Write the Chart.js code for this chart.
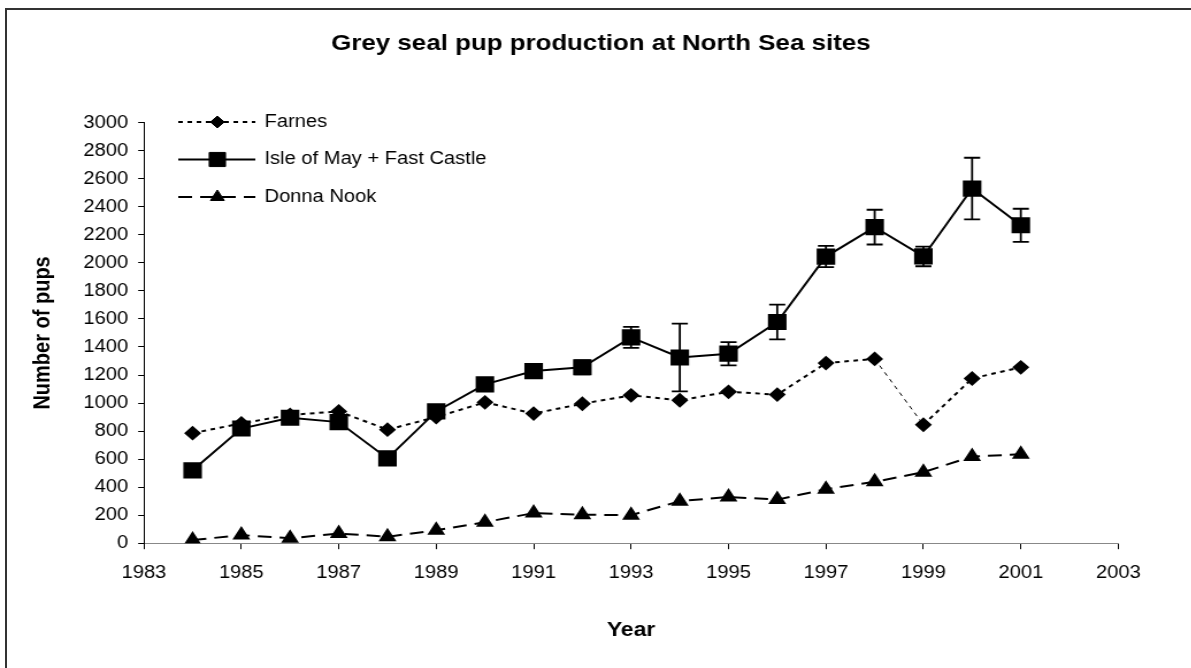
<!DOCTYPE html>
<html>
<head>
<meta charset="utf-8">
<title>Grey seal pup production at North Sea sites</title>
<script src="https://cdn.jsdelivr.net/npm/chart.js@4.4.0/dist/chart.umd.min.js"></script>
<style>
  html, body { margin: 0; padding: 0; background: #fff; overflow: hidden; }
  #frame {
    position: absolute; left: 5px; top: 8px; width: 1300px; height: 800px;
    border-left: 2px solid #333; border-top: 2px solid #333;
  }
  /* the original picture is stretched sideways, so the chart is too */
  #chart { position: absolute; left: 0; top: 0; transform: scaleX(1.15); transform-origin: 0 0; }
</style>
</head>
<body>
<div id="frame"></div>
<canvas id="chart" width="1036" height="668"></canvas>
<script>
const years = [1984, 1985, 1986, 1987, 1988, 1989, 1990, 1991, 1992, 1993, 1994, 1995, 1996, 1997, 1998, 1999, 2000, 2001];
const farnes = [785, 855, 915, 940, 810, 900, 1005, 925, 995, 1055, 1020, 1080, 1060, 1285, 1315, 845, 1175, 1255];
const isleOfMay = [520, 818, 895, 864, 605, 940, 1133, 1228, 1255, 1468, 1325, 1352, 1578, 2045, 2255, 2046, 2530, 2268];
const isleOfMayError = [null, null, null, null, null, null, null, null, 50, 75, 242, 83, 124, 76, 124, 70, 220, 118];
const donnaNook = [22, 58, 35, 69, 46, 92, 150, 215, 203, 200, 300, 330, 311, 385, 438, 507, 618, 634];
const xTicks = [1983, 1985, 1987, 1989, 1991, 1993, 1995, 1997, 1999, 2001, 2003];
const yTicks = [0, 200, 400, 600, 800, 1000, 1200, 1400, 1600, 1800, 2000, 2200, 2400, 2600, 2800, 3000];

const fontFamily = '"Liberation Sans", Arial, sans-serif';
Chart.defaults.font.family = fontFamily;
Chart.defaults.color = '#000';

function toPoints(values) {
    return years.map((yr, i) => ({ x: yr, y: values[i] }));
}

// vertical error bars with caps on the Isle of May series
const errorBars = {
    id: 'errorBars',
    afterDatasetsDraw(chart) {
        const { ctx, scales: { x, y } } = chart;
        ctx.save();
        ctx.strokeStyle = '#000';
        ctx.lineWidth = 1.8;
        years.forEach((yr, i) => {
            const err = isleOfMayError[i];
            if (err == null) return;
            const px = x.getPixelForValue(yr);
            const top = y.getPixelForValue(isleOfMay[i] + err);
            const bottom = y.getPixelForValue(isleOfMay[i] - err);
            ctx.beginPath();
            ctx.moveTo(px, top);
            ctx.lineTo(px, bottom);
            ctx.moveTo(px - 7, top);
            ctx.lineTo(px + 7, top);
            ctx.moveTo(px - 7, bottom);
            ctx.lineTo(px + 7, bottom);
            ctx.stroke();
        });
        ctx.restore();
    }
};

// excel style legend: a line sample with the marker sitting on it
const lineLegend = {
    id: 'lineLegend',
    afterDraw(chart) {
        const ctx = chart.ctx;
        ctx.save();
        chart.data.datasets.forEach((ds, i) => {
            const y = 122 + i * 37.5;
            ctx.beginPath();
            ctx.setLineDash(ds.borderDash || []);
            ctx.lineWidth = ds.borderWidth;
            ctx.strokeStyle = ds.borderColor;
            ctx.moveTo(155, y);
            ctx.lineTo(222, y);
            ctx.stroke();
            ctx.setLineDash([]);
            ctx.fillStyle = ds.pointBackgroundColor;
            ctx.strokeStyle = ds.pointBorderColor;
            ctx.lineWidth = 1;
            Chart.helpers.drawPoint(ctx, {
                pointStyle: ds.pointStyle,
                radius: ds.pointRadius,
                rotation: 0,
                borderWidth: 1
            }, 189, y);
            ctx.fillStyle = '#000';
            ctx.font = '17.5px ' + fontFamily;
            ctx.textBaseline = 'middle';
            ctx.textAlign = 'left';
            ctx.fillText(ds.label, 230, y);
        });
        ctx.restore();
    }
};

const ctx = document.getElementById('chart').getContext('2d');

new Chart(ctx, {
    type: 'line',
    data: {
        datasets: [
            {
                label: 'Farnes',
                data: toPoints(farnes),
                borderColor: '#000',
                borderWidth: 2,
                borderDash: [4, 4],
                pointStyle: 'rectRot',
                pointRadius: 6,
                pointBackgroundColor: '#000',
                pointBorderColor: '#000',
                segment: {
                    // the 1998 -> 1999 stretch is drawn thin in the original
                    borderWidth: c => c.p0.parsed.x === 1998 ? 1 : undefined
                }
            },
            {
                label: 'Isle of May + Fast Castle',
                data: toPoints(isleOfMay),
                borderColor: '#000',
                borderWidth: 2,
                pointStyle: 'rect',
                pointRadius: 10,
                pointBackgroundColor: '#000',
                pointBorderColor: '#000'
            },
            {
                label: 'Donna Nook',
                data: toPoints(donnaNook),
                borderColor: '#000',
                borderWidth: 2,
                borderDash: [12, 7],
                pointStyle: 'triangle',
                pointRadius: 7,
                pointBackgroundColor: '#000',
                pointBorderColor: '#000'
            }
        ]
    },
    options: {
        responsive: false,
        devicePixelRatio: 1,
        animation: false,
        layout: {
            padding: { left: 9, right: 0, top: 0, bottom: 26 }
        },
        elements: {
            line: { tension: 0, fill: false },
            point: { borderWidth: 1 }
        },
        plugins: {
            legend: { display: false },
            tooltip: { enabled: false },
            title: {
                display: true,
                text: 'Grey seal pup production at North Sea sites',
                color: '#000',
                font: { size: 22.5, weight: 'bold' },
                padding: { top: 30, bottom: 65.7 }
            }
        },
        scales: {
            x: {
                type: 'linear',
                min: 1983,
                max: 2003,
                afterBuildTicks: scale => {
                    scale.ticks = xTicks.map(v => ({ value: v }));
                },
                grid: {
                    drawOnChartArea: false,
                    drawTicks: true,
                    tickLength: 6,
                    color: '#000',
                    tickColor: '#000'
                },
                border: { display: true, color: '#888', width: 1 },
                ticks: {
                    padding: 13.5,
                    autoSkip: false,
                    maxRotation: 0,
                    font: { size: 17.5 },
                    color: '#000',
                    callback: v => String(v)
                },
                title: {
                    display: true,
                    text: 'Year',
                    color: '#000',
                    font: { size: 20, weight: 'bold' },
                    padding: { top: 20.8, bottom: 0 }
                }
            },
            y: {
                type: 'linear',
                min: 0,
                max: 3000,
                afterBuildTicks: scale => {
                    scale.ticks = yTicks.map(v => ({ value: v }));
                },
                grid: {
                    drawOnChartArea: false,
                    drawTicks: true,
                    tickLength: 5,
                    color: '#000',
                    tickColor: '#000'
                },
                border: { display: true, color: '#000', width: 1 },
                ticks: {
                    padding: 8.6,
                    font: { size: 17.5 },
                    color: '#000',
                    callback: v => String(v)
                },
                title: {
                    display: true,
                    text: 'Number of pups',
                    color: '#000',
                    font: { size: 20, weight: 'bold' },
                    padding: { top: 16.7, bottom: 14.3 }
                }
            },
            // empty right hand axis that just keeps the gap to the right of the plot
            spacer: {
                type: 'linear',
                position: 'right',
                display: true,
                grid: { display: false },
                border: { display: false },
                ticks: { display: false },
                afterFit: scale => {
                    scale.width = 63.6;
                }
            }
        }
    },
    plugins: [errorBars, lineLegend]
});
</script>
</body>
</html>
